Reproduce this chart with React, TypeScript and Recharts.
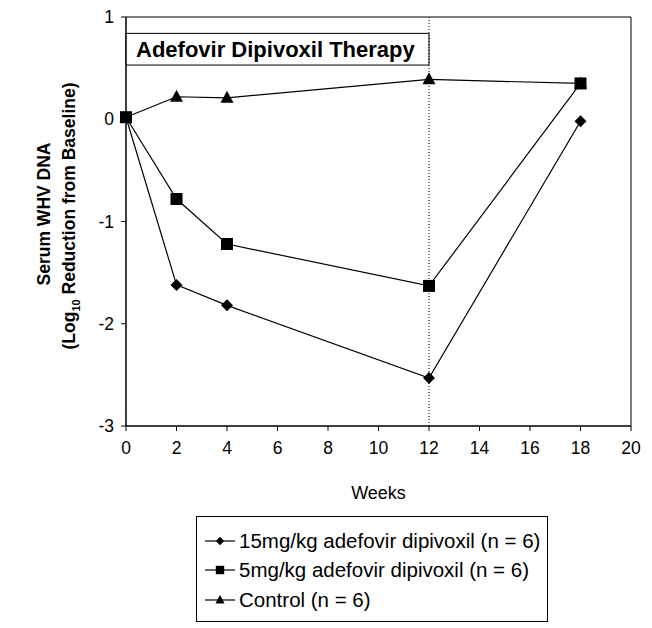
import React from 'react';
import {
  LineChart,
  Line,
  XAxis,
  YAxis,
  ReferenceArea,
  ReferenceLine,
  Legend,
} from 'recharts';

const weeks = [0, 2, 4, 12, 18];
const dose15 = [0.02, -1.62, -1.82, -2.53, -0.02];
const dose5 = [0.02, -0.78, -1.22, -1.63, 0.35];
const control = [0.02, 0.22, 0.21, 0.39, 0.35];

const xTicks = [0, 2, 4, 6, 8, 10, 12, 14, 16, 18, 20];
const yTicks = [-3, -2, -1, 0, 1];

const seriesNames = [
  '15mg/kg adefovir dipivoxil (n = 6)',
  '5mg/kg adefovir dipivoxil (n = 6)',
  'Control (n = 6)',
];

const data = weeks.map((week, i) => ({
  week,
  dose15: dose15[i],
  dose5: dose5[i],
  control: control[i],
}));

const FONT = '"Liberation Sans", Arial, sans-serif';

type Shape = 'diamond' | 'square' | 'triangle';

const marker = (shape: Shape, cx: number, cy: number, s = 1, key?: React.Key) => {
  if (shape === 'square') {
    return <rect key={key} x={cx - 6 * s} y={cy - 6 * s} width={12 * s} height={12 * s} fill="#000" />;
  }
  if (shape === 'diamond') {
    return (
      <polygon
        key={key}
        points={`${cx},${cy - 6 * s} ${cx + 6 * s},${cy} ${cx},${cy + 6 * s} ${cx - 6 * s},${cy}`}
        fill="#000"
      />
    );
  }
  return (
    <polygon
      key={key}
      points={`${cx},${cy - 7 * s} ${cx + 6.5 * s},${cy + 5 * s} ${cx - 6.5 * s},${cy + 5 * s}`}
      fill="#000"
    />
  );
};

const dotFor = (shape: Shape) => (props: any) => marker(shape, props.cx, props.cy, 1, `${shape}-${props.index}`);

const LegendBox = () => {
  const rows: [string, Shape][] = [
    [seriesNames[0], 'diamond'],
    [seriesNames[1], 'square'],
    [seriesNames[2], 'triangle'],
  ];
  return (
    <div
      style={{
        border: '1px solid #000',
        width: 352,
        height: 106,
        boxSizing: 'border-box',
        padding: '9px 0 0 7px',
        fontFamily: FONT,
        fontSize: 20.5,
        background: '#fff',
        whiteSpace: 'nowrap',
      }}
    >
      {rows.map(([name, shape]) => (
        <div key={name} style={{ display: 'flex', alignItems: 'center', height: 29.5 }}>
          <svg width={32} height={16} style={{ marginRight: 3 }}>
            <line x1={1} y1={8} x2={31} y2={8} stroke="#000" strokeWidth={1.2} />
            {marker(shape, 16, 8, 0.7)}
          </svg>
          <span>{name}</span>
        </div>
      ))}
    </div>
  );
};

const YLabel = () => (
  <g fontFamily={FONT} fontWeight="bold" fontSize={17.5} fill="#000">
    <text x={0} y={0} transform="translate(50,214) rotate(-90)" textAnchor="middle">
      Serum WHV DNA
    </text>
    <text x={0} y={0} transform="translate(75,216) rotate(-90)" textAnchor="middle">
      (Log
      <tspan fontSize={11} dy={5}>10</tspan>
      <tspan dy={-5}> Reduction from Baseline)</tspan>
    </text>
  </g>
);

export default function App() {
  return (
    <div style={{ position: 'absolute', left: 0, top: 0, width: 652, height: 628, background: '#fff' }}>
      <LineChart
        width={652}
        height={628}
        data={data}
        margin={{ top: 17, right: 21, bottom: 160, left: 0 }}
      >
        <XAxis
          dataKey="week"
          type="number"
          domain={[0, 20]}
          ticks={xTicks}
          interval={0}
          height={42}
          tickSize={5}
          tickMargin={11}
          stroke="#000"
          tick={{ fill: '#000', fontSize: 17.5, fontFamily: FONT }}
          label={{ value: 'Weeks', position: 'insideBottom', offset: -31, fill: '#000', fontSize: 18, fontFamily: FONT }}
        />
        <YAxis
          type="number"
          domain={[-3, 1]}
          ticks={yTicks}
          interval={0}
          width={126}
          tickSize={5}
          tickMargin={7}
          stroke="#000"
          tick={{ fill: '#000', fontSize: 17.5, fontFamily: FONT }}
          label={{ content: () => <YLabel /> }}
        />
        <ReferenceArea x1={0} x2={20} y1={-3} y2={1} fill="none" stroke="#000" strokeWidth={1} />
        <ReferenceLine x={12} stroke="#000" strokeDasharray="1 2" strokeWidth={1} />
        <ReferenceArea
          x1={0}
          x2={12}
          y1={0.53}
          y2={0.84}
          fill="#fff"
          fillOpacity={1}
          stroke="#000"
          strokeWidth={1}
          label={{
            value: 'Adefovir Dipivoxil Therapy',
            position: 'insideLeft',
            offset: 10,
            fill: '#000',
            fontSize: 22,
            fontWeight: 'bold',
            fontFamily: FONT,
          }}
        />
        <Legend
          layout="horizontal"
          verticalAlign="middle"
          align="center"
          content={() => <LegendBox />}
          wrapperStyle={{ position: 'absolute', left: 196, top: 516, width: 352, height: 106 }}
        />
        <Line
          dataKey="control"
          name={seriesNames[2]}
          stroke="#000"
          strokeWidth={1.2}
          dot={dotFor('triangle')}
          isAnimationActive={false}
        />
        <Line
          dataKey="dose15"
          name={seriesNames[0]}
          stroke="#000"
          strokeWidth={1.2}
          dot={dotFor('diamond')}
          isAnimationActive={false}
        />
        <Line
          dataKey="dose5"
          name={seriesNames[1]}
          stroke="#000"
          strokeWidth={1.2}
          dot={dotFor('square')}
          isAnimationActive={false}
        />
      </LineChart>
    </div>
  );
}
